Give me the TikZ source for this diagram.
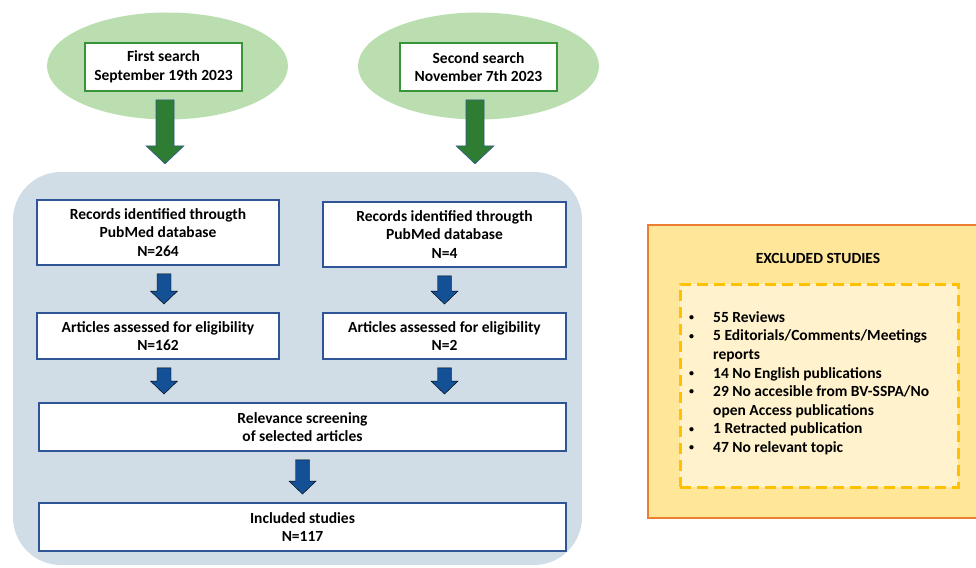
\documentclass[tikz,border=0pt]{standalone}
\usepackage{fontspec}
\setmainfont{Carlito}
\usetikzlibrary{shapes.geometric,calc}

\definecolor{searchfill}{RGB}{187,222,176}
\definecolor{searchline}{RGB}{56,148,56}
\definecolor{searcharrowfill}{RGB}{46,125,50}
\definecolor{panelfill}{RGB}{208,221,231}
\definecolor{boxline}{RGB}{47,85,151}
\definecolor{arrowfill}{RGB}{20,80,150}
\definecolor{excludeline}{RGB}{237,125,49}
\definecolor{excludefill}{RGB}{255,230,153}
\definecolor{reasonline}{RGB}{255,192,0}
\definecolor{reasonfill}{RGB}{255,242,204}

\newcommand{\boxfont}{\fontsize{15.5pt}{18.6pt}\selectfont\bfseries}
\newcommand{\dotmark}{\raisebox{1.8pt}{\fontsize{10pt}{10pt}\selectfont•}}

\tikzset{
	searchcloud/.style={ellipse, fill=searchfill, minimum width=241pt, minimum height=107pt, inner sep=0pt},
	searchbox/.style={draw=searchline, line width=1.8pt, fill=white, minimum width=157pt, minimum height=48pt, align=center, font=\boxfont, inner sep=0pt},
	panelbox/.style={fill=panelfill, rounded corners=48pt, minimum width=569pt, minimum height=393pt, inner sep=0pt},
	stepbox/.style={draw=boxline, line width=1.8pt, fill=white, align=center, font=\boxfont, inner sep=0pt},
	searcharrow/.style={fill=searcharrowfill, draw=boxline, line width=0.6pt},
	blockarrow/.style={fill=arrowfill},
	excludebox/.style={draw=excludeline, line width=2.5pt, fill=excludefill, minimum width=330pt, minimum height=293pt, inner sep=0pt},
	reasonbox/.style={draw=reasonline, line width=3pt, dash pattern=on 11pt off 6pt, fill=reasonfill, minimum width=278pt, minimum height=203pt, inner sep=0pt}
}

\newcommand{\fatarrow}[7]{%
	\filldraw[#1] let \p1=(#2.south), \p2=(#3.north) in
		(\x1+#4-#5,\y1-8pt) -- (\x1+#4+#5,\y1-8pt) -- (\x1+#4+#5,\y2+8pt+#7) -- (\x1+#4+#6,\y2+8pt+#7)
		-- (\x1+#4,\y2+8pt) -- (\x1+#4-#6,\y2+8pt+#7) -- (\x1+#4-#5,\y2+8pt+#7) -- cycle;}
\newcommand{\bluearrow}[3]{\fatarrow{blockarrow}{#1}{#2}{#3}{7pt}{13.5pt}{13pt}}
\newcommand{\greenarrow}[3]{\fatarrow{searcharrow}{#1}{#2}{#3}{9pt}{19pt}{18pt}}

\begin{document}
\begin{tikzpicture}[x=1pt,y=-1pt]
	\useasboundingbox (0,0) rectangle (976,567);

	\node[searchcloud] (cloud1) at (167.5,66) {};
	\node[searchcloud] (cloud2) at (478.5,66) {};
	\node[searchbox] (search1) at (163.5,67) {First search\\September 19th 2023};
	\node[searchbox] (search2) at (478.5,67) {Second search\\November 7th 2023};

	\node[panelbox] (panel) at (297.5,368.5) {};

	\node[stepbox, minimum width=242pt, minimum height=65pt] (records1) at (158,232.5) {Records identified througth\\PubMed database\\N=264};
	\node[stepbox, minimum width=243pt, minimum height=65pt] (records2) at (444.5,234.5) {Records identified througth\\PubMed database\\N=4};
	\node[stepbox, minimum width=242pt, minimum height=46pt] (assessed1) at (158,336) {Articles assessed for eligibility\\N=162};
	\node[stepbox, minimum width=243pt, minimum height=46pt] (assessed2) at (444.5,336) {Articles assessed for eligibility\\N=2};
	\node[stepbox, minimum width=527pt, minimum height=48pt] (screening) at (302.5,427) {Relevance screening\\of selected articles};
	\node[stepbox, minimum width=527pt, minimum height=48pt] (included) at (302.5,527) {Included studies\\N=117};

	\greenarrow{search1}{panel}{1.5pt}
	\greenarrow{search2}{panel}{-3.5pt}
	\bluearrow{records1}{assessed1}{6pt}
	\bluearrow{records2}{assessed2}{0pt}
	\bluearrow{assessed1}{screening}{6pt}
	\bluearrow{assessed2}{screening}{0pt}
	\bluearrow{screening}{included}{0pt}

	\node[excludebox] (excluded) at (813,371.5) {};
	\node[font=\boxfont] (title) at (818,258) {EXCLUDED STUDIES};
	\node[reasonbox] (reasons) at (819,385.5) {};
	\node[font=\boxfont, anchor=north west, inner sep=0pt] (reasonlist) at (689,309) {%
		\begin{tabular}{@{}p{24pt}@{}l@{}}
			\dotmark & 55 Reviews\\
			\dotmark & 5 Editorials/Comments/Meetings\\
			         & reports\\
			\dotmark & 14 No English publications\\
			\dotmark & 29 No accesible from BV-SSPA/No\\
			         & open Access publications\\
			\dotmark & 1 Retracted publication\\
			\dotmark & 47 No relevant topic
		\end{tabular}};
\end{tikzpicture}
\end{document}
